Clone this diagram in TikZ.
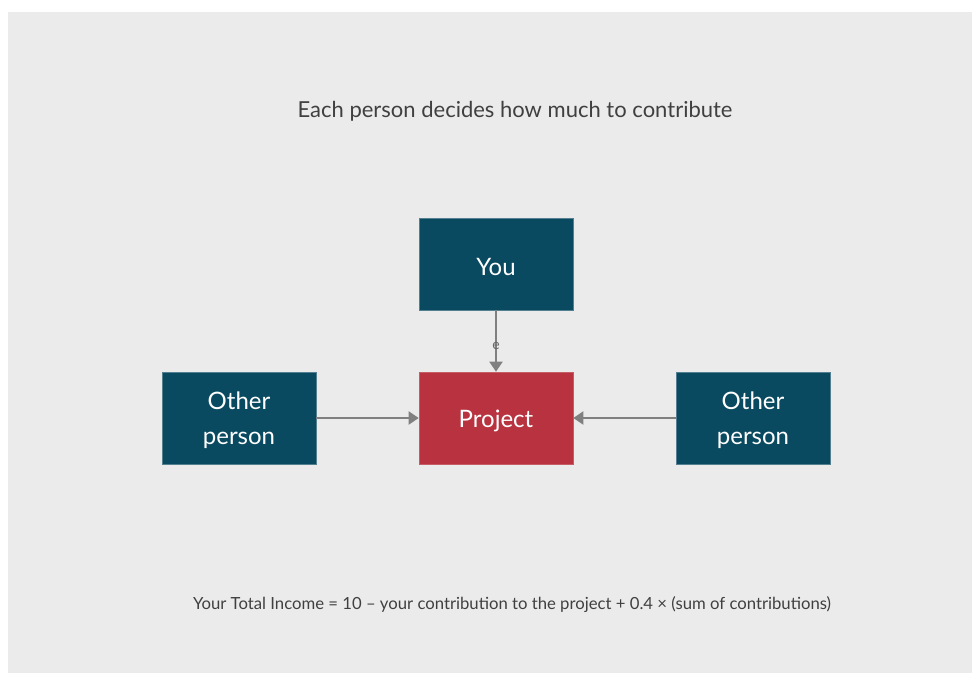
\documentclass[tikz,border=0pt]{standalone}
\usepackage{fontspec}
\setmainfont{Lato}
\usetikzlibrary{arrows.meta}
\definecolor{bg}{HTML}{EBEBEB}
\definecolor{teal}{HTML}{0A4A60}
\definecolor{projred}{HTML}{B8333F}
\definecolor{arrowgrey}{HTML}{808080}
\definecolor{textgrey}{HTML}{404040}
\newcommand\lowtxt[1]{\raisebox{-2.5pt}[\height][\depth]{#1}}
\tikzset{
  box/.style={rectangle, minimum width=154pt, minimum height=92pt, inner sep=0pt,
    text=white, font=\fontsize{24}{35}\selectfont, align=center, draw=teal!70!white, line width=0.6pt},
  personbox/.style={box, fill=teal},
  projbox/.style={box, fill=projred, draw=projred!80!white},
  conn/.style={draw=arrowgrey, line width=2pt, -{Triangle[length=10pt,width=13pt]}},
}
\begin{document}
\begin{tikzpicture}[x=1pt,y=-1pt]
\useasboundingbox (0,0) rectangle (972,673);
\fill[white] (0,0) rectangle (972,673);
\fill[bg] (8,12) rectangle (972,673);
\node[text=textgrey, font=\fontsize{22}{26}\selectfont] (title) at (515,111) {Each person decides how much to contribute};
\node[personbox] (you) at (496,264) {\lowtxt{You}};
\node[projbox] (proj) at (496,418) {\lowtxt{Project}};
\node[personbox] (left) at (239,418) {\lowtxt{Other}\\\lowtxt{person}};
\node[personbox] (right) at (753,418) {\lowtxt{Other}\\\lowtxt{person}};
\draw[conn] (you) -- (proj);
\node[text=arrowgrey!80!black, font=\fontsize{14}{16}\selectfont, inner sep=0pt] (elab) at (496,346) {e};
\draw[conn] (left) -- (proj);
\draw[conn] (right) -- (proj);
\node[text=textgrey, font=\fontsize{16.7}{20}\selectfont] (formula) at (512,604.5) {Your Total Income = 10 – your contribution to the project + 0.4 × (sum of contributions)};
\end{tikzpicture}
\end{document}
